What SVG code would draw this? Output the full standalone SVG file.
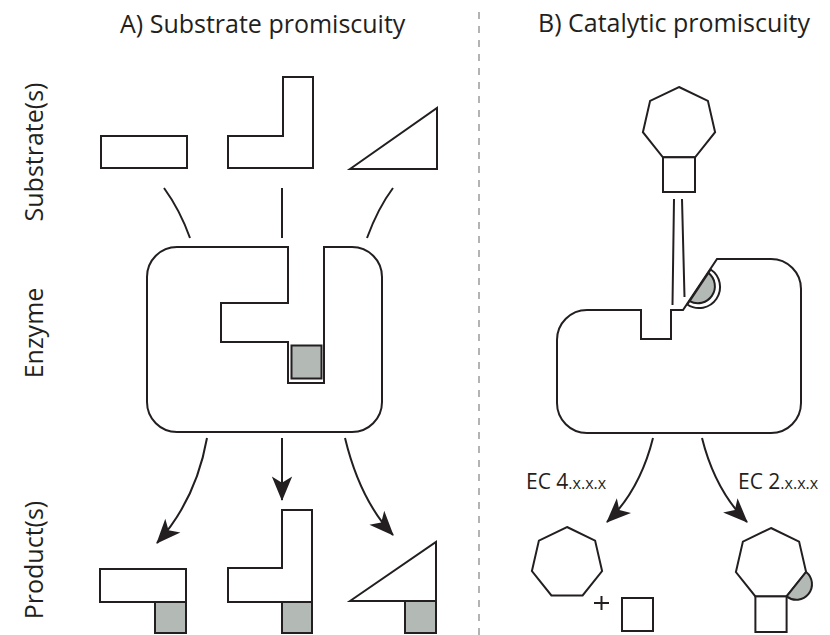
<svg xmlns="http://www.w3.org/2000/svg" width="830" height="635" viewBox="0 0 830 635">
<style>
.o{fill:#fff;stroke:#231f20;stroke-width:2;stroke-linejoin:miter}
.g{fill:#b3bab6;stroke:#231f20;stroke-width:2}
.l{fill:none;stroke:#231f20;stroke-width:2}
.a{fill:none;stroke:#231f20;stroke-width:2;marker-end:url(#ah)}
.t{font-family:"Open Sans","Liberation Sans",sans-serif;fill:#231f20}
</style>
<defs>
<marker id="ah" markerUnits="userSpaceOnUse" markerWidth="30" markerHeight="30" viewBox="-24 -12 28 24" refX="0" refY="0" orient="auto">
<path d="M1,0 L-22,-9.5 L-16,0 L-22,9.5 Z" fill="#231f20"/>
</marker>
</defs>
<rect width="830" height="635" fill="#fff"/>
<line x1="479" y1="12" x2="479" y2="635" stroke="#9a9a9a" stroke-width="1.5" stroke-dasharray="7 7"/>
<g id="titles">
<text class="t" x="120" y="33" font-size="25">A) Substrate promiscuity</text>
<text class="t" x="538" y="32" font-size="25">B) Catalytic promiscuity</text>
<text class="t" font-size="25" text-anchor="middle" transform="translate(43,152) rotate(-90)">Substrate(s)</text>
<text class="t" font-size="25" text-anchor="middle" transform="translate(43,333) rotate(-90)">Enzyme</text>
<text class="t" font-size="25" text-anchor="middle" transform="translate(43,560) rotate(-90)">Product(s)</text>
</g>
<g id="substrateA1"><rect class="o" x="101" y="136" width="86" height="32"/></g>
<g id="substrateA2"><path class="o" d="M228,136 L283,136 L283,77 L313,77 L313,168 L228,168 Z"/></g>
<g id="substrateA3"><path class="o" d="M350,169 L437,108 L437,169 Z"/></g>
<g id="enzymeA">
<path class="o" d="M177,247 L288,247 L288,303 L221,303 L221,342 L288,342 L288,383 L324,383 L324,247 L352,247 A30,30 0 0 1 382,277 L382,402 A30,30 0 0 1 352,432 L177,432 A30,30 0 0 1 147,402 L147,277 A30,30 0 0 1 177,247 Z"/>
<rect class="g" x="291.5" y="345.5" width="30" height="33"/>
</g>
<g id="productA1"><rect class="o" x="100" y="569" width="86" height="33"/><rect class="g" x="155" y="602" width="31" height="31"/></g>
<g id="productA2"><path class="o" d="M228,568 L282,568 L282,510 L312,510 L312,602 L228,602 Z"/><rect class="g" x="282" y="602" width="30" height="31"/></g>
<g id="productA3"><path class="o" d="M350,601 L436,542 L436,601 Z"/><rect class="g" x="405" y="601" width="31" height="32"/></g>
<g id="substrateB">
<path class="o" d="M679,87 L707.9,100.9 L715.1,132.2 L695.1,157.3 L662.9,157.3 L642.9,132.2 L650.1,100.9 Z"/>
<rect class="o" x="663" y="157.3" width="32" height="34.7"/>
</g>
<g id="enzymeB">
<path class="o" d="M587,310 L641,310 L641,339 L671,339 L671,310 L683,310 L717,259 L771,259 A30,30 0 0 1 801,289 L801,403 A30,30 0 0 1 771,433 L587,433 A30,30 0 0 1 557,403 L557,340 A30,30 0 0 1 587,310 Z"/>
<path class="o" d="M687.3,304.5 A21,21 0 0 0 710.7,269.5 Z"/>
<path class="g" d="M689.6,301.1 A17,17 0 0 0 708.4,272.9 Z"/>
</g>
<g id="productB1">
<path class="o" d="M567,527 L595.1,540.6 L602.1,571.0 L582.6,595.4 L551.4,595.4 L531.9,571.0 L538.9,540.6 Z"/>
<path class="l" d="M594,603 L609,603 M601.5,596 L601.5,610" stroke-width="1.6"/>
<rect class="o" x="622" y="598" width="31" height="33"/>
</g>
<g id="productB2">
<path class="o" d="M771,528 L799.1,541.6 L806.1,572.0 L786.6,596.4 L755.4,596.4 L735.9,572.0 L742.9,541.6 Z"/>
<path class="g" d="M806.1,572 A15.6,15.6 0 0 1 786.6,596.4 Z"/>
<rect class="o" x="755.4" y="596.4" width="31.2" height="35.6"/>
</g>
<g id="labels">
<text class="t" x="526" y="489" font-size="21">EC 4<tspan font-size="16">.x.x.x</tspan></text>
<text class="t" x="738" y="489" font-size="21">EC 2<tspan font-size="16">.x.x.x</tspan></text>
</g>
<g id="connectors">
<path class="l" d="M164,188 Q180,210 190,238"/>
<path class="l" d="M282,188 L282,238"/>
<path class="l" d="M393,188 Q378,208 367,238"/>
<path class="l" d="M674,199 L672.5,305 M682,199 L684.5,297"/>
<path class="a" d="M207,438 Q196,500 157,543"/>
<path class="a" d="M282,438 L282,500"/>
<path class="a" d="M345,438 Q360,500 393,535"/>
<path class="a" d="M653,438 Q640,490 607,522"/>
<path class="a" d="M702,438 Q715,490 747,522"/>
</g>
</svg>
